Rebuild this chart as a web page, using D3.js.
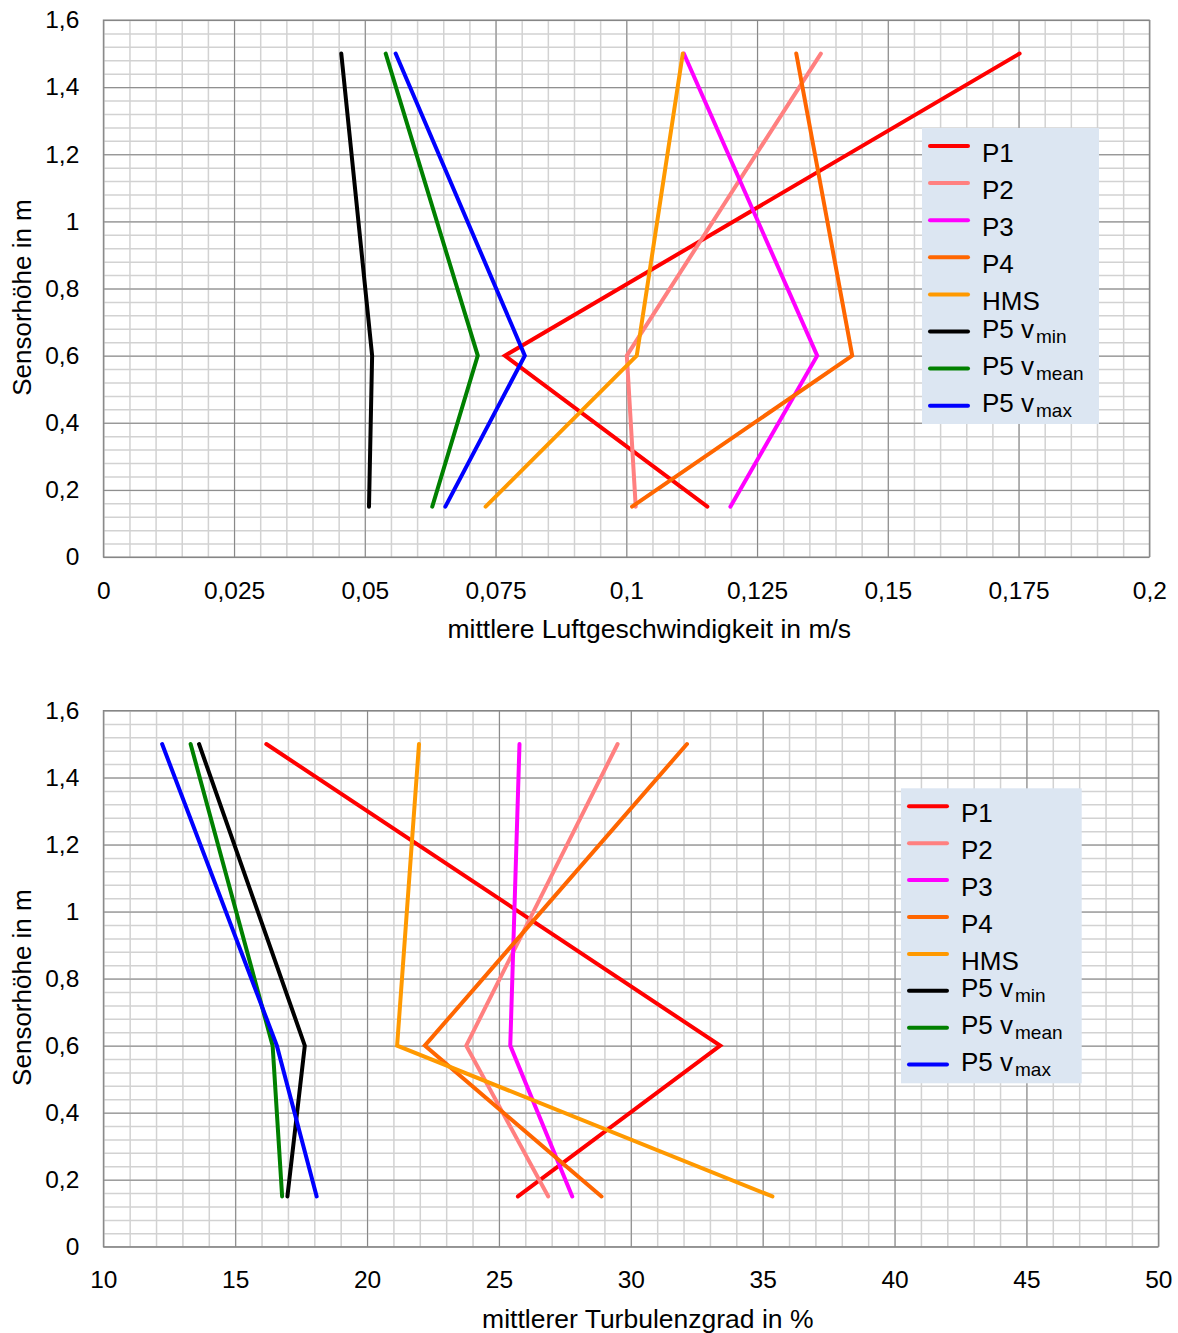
<!DOCTYPE html>
<html>
<head>
<meta charset="utf-8">
<script src="https://cdn.jsdelivr.net/npm/d3@7"></script>
<style>
  body { margin: 0; background: #fff; }
  svg { display: block; font-family: "Liberation Sans", Arial, sans-serif; }
</style>
</head>
<body>
<svg id="chart" width="1178" height="1333"></svg>
<script>
// sensor heights (m), same for every series
const heights = [0.15, 0.6, 1.5];

// legend labels
const legendMain = ["P1", "P2", "P3", "P4", "HMS", "P5 v", "P5 v", "P5 v"];
const legendSub = ["", "", "", "", "", "min", "mean", "max"];
const seriesColors = ["#ff0000", "#ff8080", "#ff00ff", "#ff6600", "#ff9900", "#000000", "#008000", "#0000ff"];

// mean air speed (m/s) at heights 0.15 / 0.6 / 1.5
const speedP1 = [0.1155, 0.0768, 0.1752];
const speedP2 = [0.1018, 0.1001, 0.1372];
const speedP3 = [0.1199, 0.1365, 0.1110];
const speedP4 = [0.1011, 0.1432, 0.1325];
const speedHMS = [0.0731, 0.1020, 0.1108];
const speedVmin = [0.0508, 0.0514, 0.0455];
const speedVmean = [0.0629, 0.0716, 0.0540];
const speedVmax = [0.0654, 0.0806, 0.0559];

// mean turbulence intensity (%) at heights 0.15 / 0.6 / 1.5
const turbP1 = [25.72, 33.39, 16.18];
const turbP2 = [26.87, 23.76, 29.50];
const turbP3 = [27.78, 25.43, 25.78];
const turbP4 = [28.89, 22.19, 32.13];
const turbHMS = [35.37, 21.14, 21.97];
const turbVmin = [16.98, 17.64, 13.63];
const turbVmean = [16.78, 16.42, 13.31];
const turbVmax = [18.09, 16.58, 12.23];

// tick labels
const heightTicks = [0, 0.2, 0.4, 0.6, 0.8, 1, 1.2, 1.4, 1.6];
const speedTicks = [0, 0.025, 0.05, 0.075, 0.1, 0.125, 0.15, 0.175, 0.2];
const turbTicks = [10, 15, 20, 25, 30, 35, 40, 45, 50];

const speedSeries = [speedP1, speedP2, speedP3, speedP4, speedHMS, speedVmin, speedVmean, speedVmax];
const turbSeries = [turbP1, turbP2, turbP3, turbP4, turbHMS, turbVmin, turbVmean, turbVmax];

const fmt = (d) => String(+d.toFixed(3)).replace(".", ",");

const svg = d3.select("#chart");

function drawPanel({ box, xDomain, xTicks, xMinor, series, xTitle, titleShift, legendBox, labelPad }) {
  const x = d3.scaleLinear().domain(xDomain).range([box.left, box.right]);
  const y = d3.scaleLinear().domain([0, 1.6]).range([box.bottom, box.top]);
  const w = box.right - box.left;
  const h = box.bottom - box.top;

  const g = svg.append("g");

  // minor grid
  const yMinor = d3.range(0, 41).map((i) => i * 0.04);
  g.append("g")
    .attr("transform", `translate(${box.left},0)`)
    .call(d3.axisLeft(y).tickValues(yMinor).tickSize(-w).tickFormat(""))
    .call((s) => s.select(".domain").remove())
    .selectAll("line")
    .attr("stroke", "#d2d2d2")
    .attr("stroke-width", 1.5);
  g.append("g")
    .attr("transform", `translate(0,${box.bottom})`)
    .call(d3.axisBottom(x).tickValues(xMinor).tickSize(-h).tickFormat(""))
    .call((s) => s.select(".domain").remove())
    .selectAll("line")
    .attr("stroke", "#d2d2d2")
    .attr("stroke-width", 1.5);

  // major grid
  g.append("g")
    .attr("transform", `translate(${box.left},0)`)
    .call(d3.axisLeft(y).tickValues(heightTicks).tickSize(-w).tickFormat(""))
    .call((s) => s.select(".domain").remove())
    .selectAll("line")
    .attr("stroke", "#868686");
  g.append("g")
    .attr("transform", `translate(0,${box.bottom})`)
    .call(d3.axisBottom(x).tickValues(xTicks).tickSize(-h).tickFormat(""))
    .call((s) => s.select(".domain").remove())
    .selectAll("line")
    .attr("stroke", "#868686");

  g.append("rect")
    .attr("x", box.left)
    .attr("y", box.top)
    .attr("width", w)
    .attr("height", h)
    .attr("fill", "none")
    .attr("stroke", "#868686");

  // tick labels
  g.append("g")
    .attr("transform", `translate(${box.left},0)`)
    .call(d3.axisLeft(y).tickValues(heightTicks).tickSize(0).tickPadding(24).tickFormat(fmt))
    .call((s) => s.select(".domain").remove())
    .selectAll("text")
    .attr("fill", "#000")
    .style("font-size", "24.5px")
    .style("font-family", "Liberation Sans, Arial, sans-serif");
  g.append("g")
    .attr("transform", `translate(0,${box.bottom})`)
    .call(d3.axisBottom(x).tickValues(xTicks).tickSize(0).tickPadding(labelPad).tickFormat(fmt))
    .call((s) => s.select(".domain").remove())
    .selectAll("text")
    .attr("fill", "#000")
    .style("font-size", "24.5px")
    .style("font-family", "Liberation Sans, Arial, sans-serif");

  // axis titles
  g.append("text")
    .attr("x", (box.left + box.right) / 2 + titleShift)
    .attr("y", box.bottom + 81)
    .attr("text-anchor", "middle")
    .style("font-size", "26.5px")
    .text(xTitle);
  g.append("text")
    .attr("transform", `translate(31,${(box.top + box.bottom) / 2 + 9}) rotate(-90)`)
    .attr("text-anchor", "middle")
    .style("font-size", "26px")
    .text("Sensorhöhe in m");

  // lines
  const line = d3
    .line()
    .x((d) => x(d.v))
    .y((d) => y(d.h));
  g.append("g")
    .selectAll("path")
    .data(series)
    .join("path")
    .attr("d", (vals) => line(vals.map((v, i) => ({ v, h: heights[i] }))))
    .attr("fill", "none")
    .attr("stroke", (_, i) => seriesColors[i])
    .attr("stroke-width", 4)
    .attr("stroke-linecap", "round")
    .attr("stroke-linejoin", "miter");

  // legend
  const lg = g.append("g");
  lg.append("rect")
    .attr("x", legendBox.x)
    .attr("y", legendBox.y)
    .attr("width", legendBox.w)
    .attr("height", legendBox.h)
    .attr("fill", "#dce6f2");
  const rows = lg
    .selectAll("g.row")
    .data(legendMain)
    .join("g")
    .attr("class", "row")
    .attr("transform", (_, i) => `translate(${legendBox.x},${legendBox.y + 18 + i * legendBox.step})`);
  rows
    .append("line")
    .attr("x1", 8)
    .attr("x2", 46)
    .attr("stroke", (_, i) => seriesColors[i])
    .attr("stroke-width", 4)
    .attr("stroke-linecap", "round");
  const txt = rows
    .append("text")
    .attr("x", 60)
    .attr("y", (_, i) => (legendSub[i] ? 6.5 : 15.7))
    .style("font-size", "26px")
    .text((d) => d);
  txt
    .filter((_, i) => legendSub[i])
    .append("tspan")
    .attr("dy", 5)
    .attr("dx", 2)
    .style("font-size", "19px")
    .text((_, i) => legendSub[5 + i]);
}

drawPanel({
  box: { left: 103.3, right: 1149.3, top: 20, bottom: 557 },
  xDomain: [0, 0.2],
  xTicks: speedTicks,
  xMinor: d3.range(0, 41).map((i) => i * 0.005),
  series: speedSeries,
  xTitle: "mittlere Luftgeschwindigkeit in m/s",
  titleShift: 23,
  legendBox: { x: 922, y: 128, w: 177, h: 296, step: 37.1 },
  labelPad: 25,
});

drawPanel({
  box: { left: 103.3, right: 1158.3, top: 710.5, bottom: 1246.7 },
  xDomain: [10, 50],
  xTicks: turbTicks,
  xMinor: d3.range(10, 51),
  series: turbSeries,
  xTitle: "mittlerer Turbulenzgrad in %",
  titleShift: 17,
  legendBox: { x: 901, y: 788.3, w: 180.7, h: 295, step: 36.9 },
  labelPad: 23.5,
});
</script>
</body>
</html>
